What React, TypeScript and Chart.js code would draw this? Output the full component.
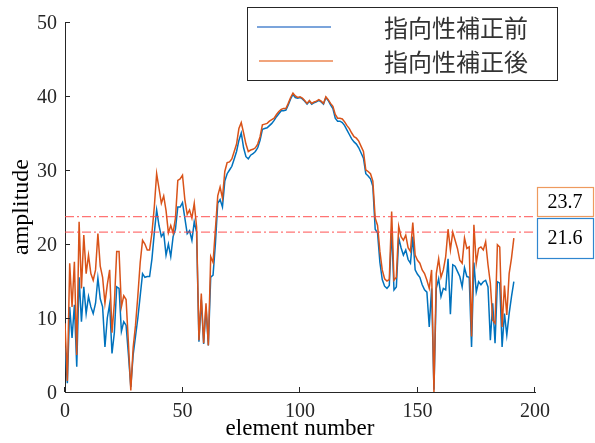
import React, { useEffect, useRef } from 'react';
import { Chart, registerables } from 'chart.js';

Chart.register(...registerables);

// amplitude before directivity correction (blue), element 0..191
const beforeCorrection: number[] = [
  6.0, 1.2, 11.5, 7.3, 11.8, 3.4, 15.5, 9.5, 14.2, 10.6,
  12.9, 11.5, 10.6, 12.0, 15.4, 12.6, 11.5, 6.1, 10.0, 11.9,
  5.2, 8.0, 14.2, 14.0, 8.2, 9.5, 9.0, 5.0, 0.7, 5.0,
  7.5, 10.0, 13.0, 16.0, 15.5, 15.6, 15.6, 18.0, 21.5, 24.6,
  22.5, 21.0, 21.5, 18.5, 20.0, 18.3, 21.0, 22.0, 25.0, 25.0,
  25.6, 23.5, 21.4, 21.8, 20.5, 23.0, 21.6, 6.8, 12.5, 6.5,
  11.5, 6.3, 15.5, 15.8, 20.0, 25.5, 26.0, 25.0, 28.5, 29.5,
  30.0, 30.5, 31.5, 32.5, 34.0, 35.0, 33.0, 31.8, 31.5, 32.0,
  32.2, 32.5, 33.0, 34.0, 35.5, 35.6, 35.7, 36.0, 36.3, 36.7,
  37.2, 37.6, 38.0, 38.0, 38.1, 38.8, 39.6, 40.2, 39.8, 39.7,
  39.8, 39.6, 39.3, 38.9, 39.3, 38.9, 39.1, 39.2, 39.4, 39.2,
  38.9, 39.8, 39.4, 38.8, 38.3, 37.0, 36.6, 36.6, 36.4, 36.0,
  35.4, 34.8, 34.2, 33.8, 33.5, 33.0, 32.3, 31.6, 29.5, 29.2,
  28.8, 27.8, 22.0, 21.5, 17.5, 15.2, 14.3, 14.0, 14.4, 22.0,
  13.8, 14.2, 20.8, 19.5, 18.5, 19.2, 17.9, 17.4, 21.0, 16.5,
  15.9, 15.5, 14.5, 13.8, 13.5, 8.8, 14.0, 0.3, 14.0, 15.3,
  12.9, 14.0, 13.8, 18.0, 10.5, 17.2, 17.0, 16.3, 15.6, 14.2,
  16.8, 15.6, 15.5, 6.1, 17.5, 13.5, 14.9, 14.5, 14.9, 15.1,
  14.2, 7.0, 12.0, 6.6, 14.9, 14.7, 6.1, 10.6, 7.7, 10.6,
  12.9, 14.9,
];

// amplitude after directivity correction (orange), element 0..191
const afterCorrection: number[] = [
  9.3, 1.5, 17.4, 11.5, 17.6, 5.0, 23.0, 14.0, 21.2, 16.0,
  18.5, 16.0, 15.1, 16.5, 21.4, 17.0, 15.5, 12.0, 14.5, 16.5,
  8.0, 12.0, 19.0, 19.0, 11.5, 13.0, 12.5, 6.5, 0.2, 6.0,
  9.0, 13.0, 17.5, 20.5, 20.0, 19.2, 19.2, 21.5, 25.0, 29.5,
  27.5, 25.5, 26.5, 24.5, 21.5, 22.5, 21.5, 23.5, 28.6, 28.8,
  29.3, 26.0, 24.0, 24.6, 23.5, 25.5, 22.3, 7.0, 13.3, 6.6,
  12.0, 6.3, 18.3, 17.5, 22.0, 26.5, 27.7, 26.2, 29.8, 31.0,
  31.1, 31.5, 32.5, 33.5, 35.6, 36.4, 35.0, 33.5, 32.5, 32.7,
  32.8, 33.0, 33.5, 34.5, 36.1, 36.2, 36.3, 36.6, 36.8, 37.0,
  37.5, 37.9, 38.2, 38.3, 38.3, 39.0, 39.8, 40.4, 40.0, 39.8,
  39.9, 39.7, 39.4, 39.0, 39.4, 39.0, 39.2, 39.3, 39.5, 39.3,
  39.0, 39.9, 39.5, 39.0, 38.6, 37.5, 37.0, 37.0, 36.9, 36.5,
  36.0, 35.6, 35.0, 34.5, 34.3, 33.9, 33.2, 32.5, 30.0, 29.8,
  29.5, 28.5, 23.5, 22.5, 19.0, 16.5, 15.3, 15.0, 15.2, 24.4,
  15.1, 15.5, 22.4, 21.0, 20.5, 21.2, 19.5, 19.0, 22.9, 18.5,
  17.8, 17.4, 16.5, 16.0, 15.1, 14.0, 16.5, 0.0, 16.0, 18.0,
  15.5, 16.5, 18.3, 22.0, 19.2, 21.6, 20.5, 19.4, 17.8, 17.4,
  20.8, 19.4, 19.6, 7.5, 22.6, 17.4, 19.4, 19.6, 19.2, 20.3,
  17.2, 14.7, 9.7, 9.3, 19.9, 19.6, 8.8, 14.4, 10.4, 16.0,
  18.1, 20.8,
];

const seriesLabels = ['指向性補正前', '指向性補正後'];
const thresholdValues = [23.7, 21.6];
const thresholdLabels = ['23.7', '21.6'];
const xTickValues = [0, 50, 100, 150, 200];
const yTickValues = [0, 10, 20, 30, 40, 50];

const BLUE = '#0072BD';
const ORANGE = '#D95319';
const AXIS = '#262626';
const SERIF = '"Liberation Serif", "Times New Roman", serif';
const CJK = '"Noto Sans CJK JP", "Noto Sans", sans-serif';

const overlayPlugin = {
  id: 'overlay',
  afterDraw(chart: any) {
    const ctx = chart.ctx as CanvasRenderingContext2D;
    const { left, bottom } = chart.chartArea;
    const xs = chart.scales.x;
    const ys = chart.scales.y;
    ctx.save();
    // inward tick marks
    ctx.strokeStyle = AXIS;
    ctx.lineWidth = 1;
    ctx.beginPath();
    yTickValues.forEach((v) => {
      const y = Math.round(ys.getPixelForValue(v)) + 0.5;
      ctx.moveTo(left, y);
      ctx.lineTo(left + 5, y);
    });
    xTickValues.forEach((v) => {
      const x = Math.round(xs.getPixelForValue(v)) - 0.5;
      ctx.moveTo(x, bottom);
      ctx.lineTo(x, bottom - 5);
    });
    ctx.stroke();

    // legend
    ctx.fillStyle = '#ffffff';
    ctx.fillRect(247, 7, 310, 73);
    ctx.strokeStyle = '#262626';
    ctx.lineWidth = 1;
    ctx.strokeRect(247.5, 7.5, 310, 73);
    const legendRows = [
      { color: '#4F86CF', y: 27, x0: 257, x1: 331, text: seriesLabels[0] },
      { color: '#EC8650', y: 61, x0: 259, x1: 333, text: seriesLabels[1] },
    ];
    legendRows.forEach((r) => {
      ctx.strokeStyle = r.color;
      ctx.lineWidth = 1.4;
      ctx.beginPath();
      ctx.moveTo(r.x0, r.y);
      ctx.lineTo(r.x1, r.y);
      ctx.stroke();
      ctx.fillStyle = '#333333';
      ctx.font = `24px ${CJK}`;
      ctx.textAlign = 'left';
      ctx.textBaseline = 'middle';
      ctx.fillText(r.text, 384, r.y + 1);
    });

    // value boxes
    const boxes = [
      { color: '#EE9A5E', y: 187, h: 29, text: thresholdLabels[0] },
      { color: '#2F86CF', y: 218, h: 40, text: thresholdLabels[1] },
    ];
    boxes.forEach((b) => {
      ctx.fillStyle = '#ffffff';
      ctx.fillRect(537, b.y, 56, b.h);
      ctx.strokeStyle = b.color;
      ctx.lineWidth = 1.2;
      ctx.strokeRect(537.5, b.y + 0.5, 56, b.h);
      ctx.fillStyle = '#000000';
      ctx.font = `20px ${SERIF}`;
      ctx.textAlign = 'center';
      ctx.textBaseline = 'middle';
      ctx.fillText(b.text, 565, b.y + b.h / 2 + 1);
    });
    ctx.restore();
  },
};

export default function App() {
  const canvasRef = useRef<HTMLCanvasElement | null>(null);

  useEffect(() => {
    if (!canvasRef.current) return;
    const toPoints = (arr: number[]) => arr.map((v, i) => ({ x: i, y: v }));
    const thresholdSets = thresholdValues.map((t) => ({
      label: 'th' + t,
      data: [
        { x: xTickValues[0], y: t },
        { x: xTickValues[xTickValues.length - 1], y: t },
      ],
      borderColor: 'rgba(255, 70, 70, 0.75)',
      borderWidth: 1.2,
      borderDash: [9, 3, 2, 3],
      pointRadius: 0,
      fill: false,
    }));

    const chart = new Chart(canvasRef.current, {
      type: 'line',
      data: {
        datasets: [
          ...thresholdSets,
          {
            label: seriesLabels[1],
            data: toPoints(afterCorrection),
            borderColor: ORANGE,
            borderWidth: 1.5,
            pointRadius: 0,
            fill: false,
            tension: 0,
          },
          {
            label: seriesLabels[0],
            data: toPoints(beforeCorrection),
            borderColor: BLUE,
            borderWidth: 1.5,
            pointRadius: 0,
            fill: false,
            tension: 0,
          },
        ],
      },
      options: {
        responsive: false,
        animation: false,
        devicePixelRatio: 1,
        layout: { padding: { top: 22, right: 60, left: 0, bottom: 0 } },
        plugins: {
          legend: { display: false },
          tooltip: { enabled: false },
          title: { display: false },
        },
        scales: {
          x: {
            type: 'linear',
            min: 0,
            max: 200,
            afterBuildTicks: (s: any) => {
              s.ticks = xTickValues.map((v) => ({ value: v }));
            },
            afterFit: (s: any) => {
              s.height = 51;
            },
            ticks: {
              autoSkip: false,
              maxRotation: 0,
              padding: 8,
              color: AXIS,
              font: { family: SERIF, size: 20 },
            },
            grid: { display: false, drawTicks: false },
            border: { display: true, color: AXIS, width: 1 },
            title: {
              display: true,
              text: 'element number',
              color: '#000000',
              font: { family: SERIF, size: 23 },
              padding: { top: 0, bottom: 0 },
            },
          },
          y: {
            type: 'linear',
            min: 0,
            max: 50,
            afterBuildTicks: (s: any) => {
              s.ticks = yTickValues.map((v) => ({ value: v }));
            },
            afterFit: (s: any) => {
              s.width = 65;
            },
            ticks: {
              padding: 8,
              labelOffset: 2,
              color: AXIS,
              font: { family: SERIF, size: 20 },
            },
            grid: { display: false, drawTicks: false },
            border: { display: true, color: AXIS, width: 1 },
            title: {
              display: true,
              text: 'amplitude',
              color: '#000000',
              font: { family: SERIF, size: 24 },
              padding: { top: 7, bottom: 0 },
            },
          },
        },
      },
      plugins: [overlayPlugin],
    } as any);
    return () => chart.destroy();
  }, []);

  return (
    <div style={{ position: 'fixed', left: 0, top: 0, width: 595, height: 443, background: '#ffffff' }}>
      <canvas ref={canvasRef} width={595} height={443} />
    </div>
  );
}
